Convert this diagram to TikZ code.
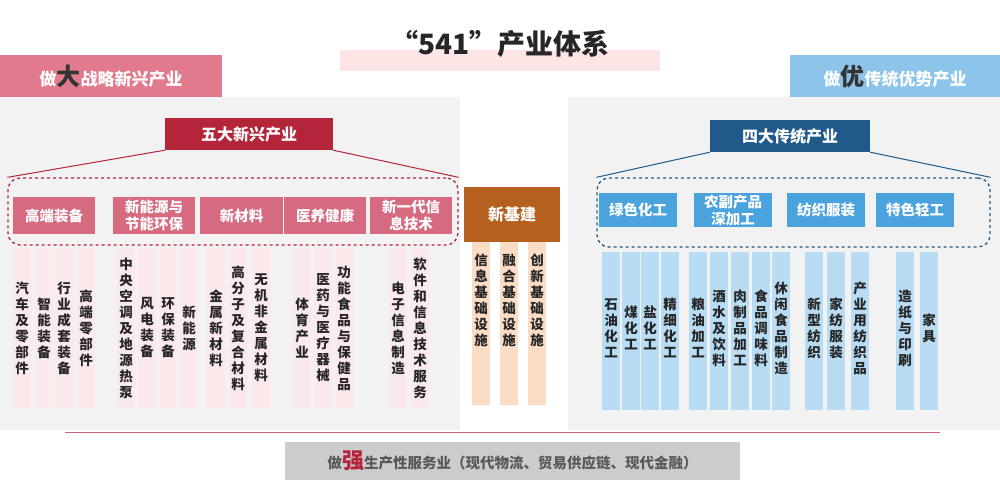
\documentclass[tikz,border=0pt]{standalone}
\usepackage{fontspec}
\setmainfont{Noto Sans CJK SC}
\usetikzlibrary{positioning}
\definecolor{dred}{HTML}{B5253A}
\definecolor{cpink}{HTML}{D56A80}
\definecolor{lpink}{HTML}{FBE9EC}
\definecolor{tpink}{HTML}{E27A8E}
\definecolor{brn}{HTML}{B5601F}
\definecolor{lorg}{HTML}{FBDCC5}
\definecolor{dblue}{HTML}{1F5A8A}
\definecolor{cblue}{HTML}{4AA3DC}
\definecolor{lblue}{HTML}{B7DCF3}
\definecolor{tblue}{HTML}{8CC4EA}
\definecolor{panel}{HTML}{F2F2F2}
\begin{document}
\begin{tikzpicture}[x=1pt,y=-1pt,
  cat/.style={fill=#1,text=white,font=\fontsize{14.5}{17}\selectfont\bfseries,align=center,inner sep=0},
  col/.style={fill=#1,text=black!85,font=\fontsize{13.5}{16}\selectfont\bfseries,align=center,inner sep=0},
  head/.style={fill=#1,text=white,font=\fontsize{16}{18}\selectfont\bfseries,inner sep=0}]
\useasboundingbox (0,0) rectangle (1000,492);
\fill[white] (0,0) rectangle (1000,492);
% panels
\fill[panel] (0,97) rectangle (460,430);
\fill[panel] (568,97) rectangle (1000,430);
% title
\fill[lpink!60!pink!70] (340,50) rectangle (660,71);
\node (title) at (500,44) {\fontsize{28}{30}\selectfont\bfseries\color{black!85}“541”产业体系};
% top boxes
\node[fill=tpink,text=white,minimum width=222pt,minimum height=42pt,inner sep=0,anchor=north west] (tl) at (0,55) {\fontsize{17}{20}\selectfont\bfseries 做{\fontsize{24}{26}\selectfont\bfseries\color{black!80}大}战略新兴产业};
\node[fill=tblue,text=white,minimum width=210pt,minimum height=42pt,inner sep=0,anchor=north west] (tr) at (790,55) {\fontsize{17}{20}\selectfont\bfseries 做{\fontsize{24}{26}\selectfont\bfseries\color{black!80}优}传统优势产业};
% left header
\node[head=dred,minimum width=168pt,minimum height=32pt] (h5) at (249,134) {五大新兴产业};
\node[draw=dred,dashed,line width=1.3pt,rounded corners=12pt,minimum width=450pt,minimum height=67pt] (dl) at (233,211.5) {};
\draw[dred,line width=1pt] (h5.south west) -- (dl.north west);
\draw[dred,line width=1pt] (h5.south east) -- (dl.north east);
\foreach \x/\w/\t [count=\i] in {54/82/高端装备,154/82/{新能源与\\节能环保},241.5/83/新材料,325/82/医养健康,411/82/{新一代信\\息技术}}
  \node[cat=cpink,minimum width=\w pt,minimum height=37pt] (lc\i) at (\x,215.5) {\t};
\foreach \x/\t [count=\i] in {22/{汽\\车\\及\\零\\部\\件},44/{智\\能\\装\\备},64/{行\\业\\成\\套\\装\\备},86/{高\\端\\零\\部\\件},126/{中\\央\\空\\调\\及\\地\\源\\热\\泵},147/{风\\电\\装\\备},168/{环\\保\\装\\备},189/{新\\能\\源},216/{金\\属\\新\\材\\料},238/{高\\分\\子\\及\\复\\合\\材\\料},261/{无\\机\\非\\金\\属\\材\\料},302/{体\\育\\产\\业},323/{医\\药\\与\\医\\疗\\器\\械},344/{功\\能\\食\\品\\与\\保\\健\\品},398/{电\\子\\信\\息\\制\\造},420/{软\\件\\和\\信\\息\\技\\术\\服\\务}}
  {\fill[lpink] (\x-9,248) rectangle (\x+9,408);
   \node[col=lpink] (ls\i) at (\x,328) {\t};}
% new infra
\node[head=brn,minimum width=96pt,minimum height=55pt] (nb) at (512,214.5) {新基建};
\foreach \x/\t [count=\i] in {481/{信\\息\\基\\础\\设\\施},509/{融\\合\\基\\础\\设\\施},537/{创\\新\\基\\础\\设\\施}}
  {\fill[lorg] (\x-9,242) rectangle (\x+9,405);
   \node[col=lorg] (ns\i) at (\x,300) {\t};}
% right header
\node[head=dblue,minimum width=160pt,minimum height=32pt] (h4) at (790,136) {四大传统产业};
\node[draw=dblue,dashed,line width=1.3pt,rounded corners=12pt,minimum width=393pt,minimum height=69pt] (dr) at (793.5,212.5) {};
\draw[dblue,line width=1pt] (h4.south west) -- (dr.north west);
\draw[dblue,line width=1pt] (h4.south east) -- (dr.north east);
\foreach \x/\t [count=\i] in {638/绿色化工,733/{农副产品\\深加工},826/纺织服装,915/特色轻工}
  \node[cat=cblue,minimum width=78pt,minimum height=34pt] (rc\i) at (\x,210) {\t};
\foreach \x/\t [count=\i] in {611/{石\\油\\化\\工},631/{煤\\化\\工},650/{盐\\化\\工},670/{精\\细\\化\\工},698/{粮\\油\\加\\工},719/{酒\\水\\及\\饮\\料},740/{肉\\制\\品\\加\\工},761/{食\\品\\调\\味\\料},781/{休\\闲\\食\\品\\制\\造},814/{新\\型\\纺\\织},836/{家\\纺\\服\\装},860/{产\\业\\用\\纺\\织\\品},905/{造\\纸\\与\\印\\刷},929/{家\\具}}
  {\fill[lblue] (\x-9,252) rectangle (\x+9,410);
   \node[col=lblue] (rs\i) at (\x,328) {\t};}
% bottom
\draw[dred!70,line width=0.8pt] (65,432) -- (940,432);
\node[fill=black!20,minimum width=455pt,minimum height=38pt,inner sep=0,text=black!65] (bt) at (512.5,461) {\fontsize{14.5}{16}\selectfont\bfseries 做{\fontsize{22}{24}\selectfont\bfseries\color{dred}强}生产性服务业（现代物流、贸易供应链、现代金融）};
\end{tikzpicture}
\end{document}
